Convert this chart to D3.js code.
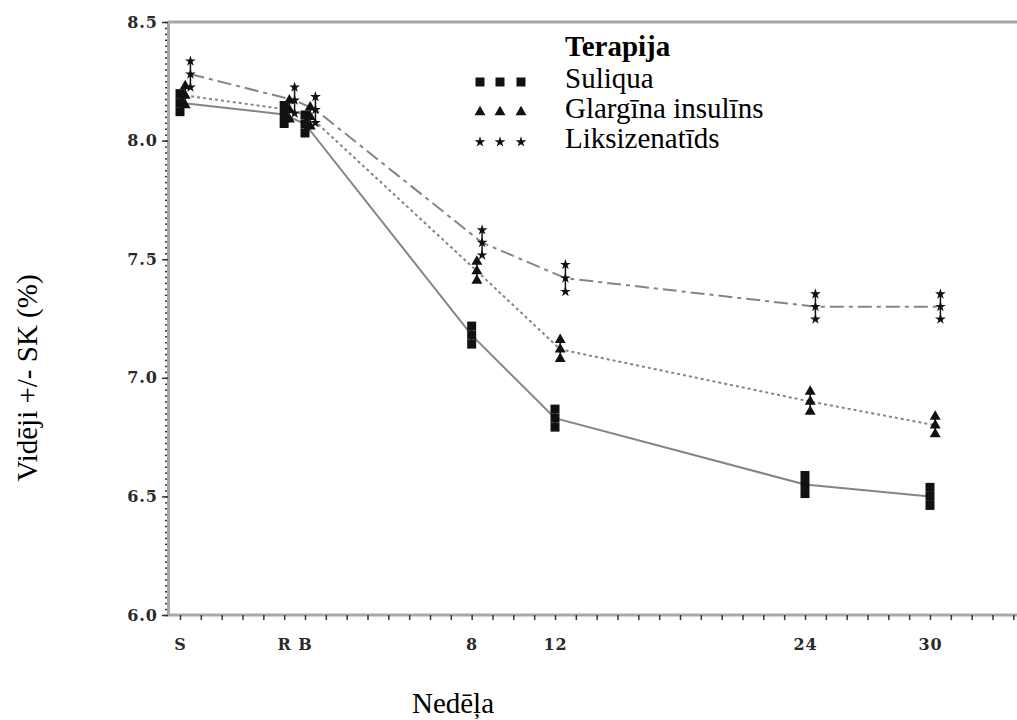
<!DOCTYPE html>
<html>
<head>
<meta charset="utf-8">
<script src="https://cdn.jsdelivr.net/npm/d3@7"></script>
<style>
  body { margin: 0; background: #fff; }
  svg { display: block; }
  .serif { font-family: "Liberation Serif", "Times New Roman", Times, "DejaVu Serif", serif; }
</style>
</head>
<body>
<div id="chart"></div>
<script>
// weeks: S = screening (-6), R = run-in (-1), B = baseline (0)
const weeks = [-6, -1, 0, 8, 12, 24, 30];
const weekLabels = ["S", "R", "B", "8", "12", "24", "30"];
const seriesNames = ["Suliqua", "Glargīna insulīns", "Liksizenatīds"];

const suliquaMean = [8.16, 8.11, 8.07, 7.18, 6.83, 6.55, 6.50];
const suliquaSE = [0.038, 0.038, 0.038, 0.038, 0.038, 0.038, 0.038];
const glargineMean = [8.19, 8.13, 8.10, 7.45, 7.12, 6.90, 6.80];
const glargineSE = [0.04, 0.04, 0.04, 0.04, 0.04, 0.042, 0.037];
const lixiMean = [8.28, 8.17, 8.13, 7.57, 7.42, 7.30, 7.30];
const lixiSE = [0.055, 0.055, 0.055, 0.053, 0.057, 0.053, 0.053];

const yTicks = [6.0, 6.5, 7.0, 7.5, 8.0, 8.5];

const width = 1017, height = 720;
const plotLeft = 168, plotTop = 22, plotBottom = 615;

const svg = d3.select("#chart").append("svg")
    .attr("width", width)
    .attr("height", height);

const x = d3.scaleLinear().domain([-6, 30]).range([180, 930]);
const y = d3.scaleLinear().domain([6.0, 8.5]).range([plotBottom, plotTop]);

// stili katrai terapijai
const styles = [
    { mean: suliquaMean, se: suliquaSE, shape: d3.symbolSquare, size: 81, dash: null, shift: 0 },
    { mean: glargineMean, se: glargineSE, shape: d3.symbolTriangle, size: 52, dash: "3,3", shift: 0.25 },
    { mean: lixiMean, se: lixiSE, shape: d3.symbolStar, size: 36, dash: "14,5,4,5", shift: 0.5 }
];

// rāmis
svg.append("line")
    .attr("x1", plotLeft).attr("x2", width + 5)
    .attr("y1", plotTop).attr("y2", plotTop)
    .attr("stroke", "#a8a8a8").attr("stroke-width", 3);

// minor y ticks
const yMinor = d3.range(6.0, 8.5001, 0.025);
svg.append("g")
    .attr("transform", `translate(${plotLeft},0)`)
    .call(d3.axisLeft(y).tickValues(yMinor).tickSize(3).tickFormat(""))
    .call(g => g.select(".domain").remove())
    .call(g => g.selectAll("line").attr("stroke", "#333").attr("stroke-width", 1.5));

const tickFont = g => g.selectAll("text")
    .attr("font-family", "DejaVu Serif")
    .attr("font-weight", "bold")
    .attr("font-size", 16)
    .attr("letter-spacing", 1)
    .attr("fill", "#2a2a2a");

const yAxis = svg.append("g")
    .attr("transform", `translate(${plotLeft},0)`)
    .call(d3.axisLeft(y).tickValues(yTicks).tickSize(6).tickPadding(4)
        .tickFormat(d3.format(".1f")).tickSizeOuter(0));
yAxis.select(".domain").attr("stroke", "#a8a8a8").attr("stroke-width", 3);
yAxis.selectAll("line").attr("stroke", "#333").attr("stroke-width", 1.5);
yAxis.call(tickFont);

// x axis: tick every week
const xMinor = d3.range(-6, 35, 1);
const xAxis = svg.append("g")
    .attr("transform", `translate(0,${plotBottom})`)
    .call(d3.axisBottom(x).tickValues(xMinor).tickSize(5).tickPadding(19)
        .tickFormat(d => {
            const i = weeks.indexOf(d);
            return i >= 0 ? weekLabels[i] : "";
        }));
xAxis.select(".domain")
    .attr("d", `M${plotLeft},0H${width + 5}`)
    .attr("stroke", "#a8a8a8").attr("stroke-width", 3);
xAxis.selectAll("line").attr("stroke", "#333").attr("stroke-width", 1.5);
xAxis.call(tickFont);

// lines
const line = d3.line();
styles.forEach(s => {
    const pts = weeks.map((w, i) => [x(w + s.shift), y(s.mean[i])]);
    svg.append("path")
        .attr("d", line(pts))
        .attr("fill", "none")
        .attr("stroke", "#858585")
        .attr("stroke-width", 2)
        .attr("stroke-dasharray", s.dash);
});

// error bars with markers at mean and mean +/- SE
styles.forEach(s => {
    const g = svg.append("g");
    weeks.forEach((w, i) => {
        const cx = x(w + s.shift);
        const lo = s.mean[i] - s.se[i], hi = s.mean[i] + s.se[i];
        g.append("line")
            .attr("x1", cx).attr("x2", cx)
            .attr("y1", y(lo)).attr("y2", y(hi))
            .attr("stroke", "#111").attr("stroke-width", 1.5);
        [lo, s.mean[i], hi].forEach(v => {
            g.append("path")
                .attr("d", d3.symbol().type(s.shape).size(s.size)())
                .attr("transform", `translate(${cx},${y(v)})`)
                .attr("fill", "#111");
        });
    });
});

// legend
const legend = svg.append("g");
legend.append("text")
    .attr("class", "serif")
    .attr("x", 565).attr("y", 56)
    .attr("font-weight", "bold")
    .attr("font-size", 29)
    .text("Terapija");
const legendY = [82, 112, 142];
styles.forEach((s, i) => {
    [480, 500, 521].forEach(lx => {
        legend.append("path")
            .attr("d", d3.symbol().type(s.shape).size(s.size)())
            .attr("transform", `translate(${lx},${legendY[i]})`)
            .attr("fill", "#111");
    });
    legend.append("text")
        .attr("class", "serif")
        .attr("x", 565).attr("y", legendY[i] + 6)
        .attr("font-size", 29)
        .text(seriesNames[i]);
});

// axis titles
svg.append("text")
    .attr("class", "serif")
    .attr("transform", "translate(37,378) rotate(-90)")
    .attr("text-anchor", "middle")
    .attr("font-size", 29)
    .text("Vidēji +/- SK (%)");

svg.append("text")
    .attr("class", "serif")
    .attr("x", 453).attr("y", 713)
    .attr("text-anchor", "middle")
    .attr("font-size", 29)
    .text("Nedēļa");
</script>
</body>
</html>
